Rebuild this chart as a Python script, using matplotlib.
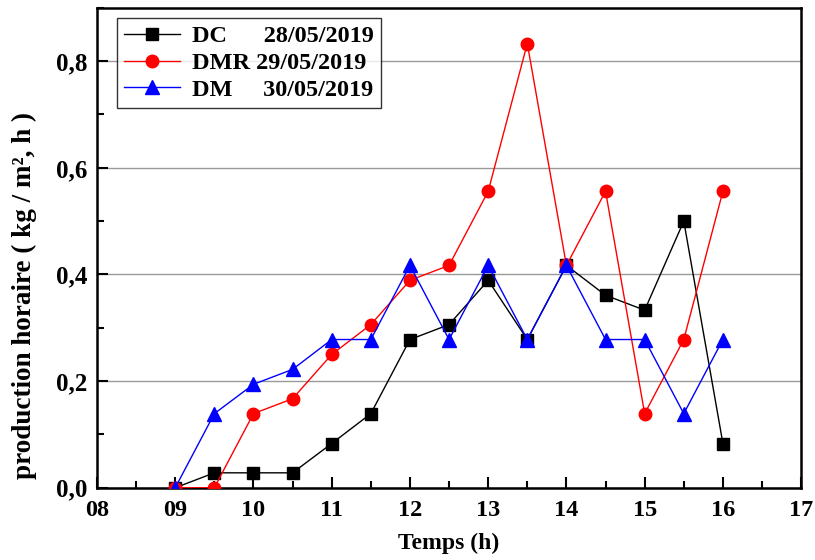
import numpy as np
import matplotlib.pyplot as plt
from matplotlib.ticker import MultipleLocator, FuncFormatter

plt.rcParams['font.family'] = ['Liberation Serif', 'DejaVu Serif']
plt.rcParams['font.weight'] = 'bold'

hours = [9, 9.5, 10, 10.5, 11, 11.5, 12, 12.5, 13, 13.5, 14, 14.5, 15, 15.5, 16]
dc = [0.0, 0.028, 0.028, 0.028, 0.083, 0.139, 0.278, 0.306, 0.389, 0.278, 0.417, 0.361, 0.333, 0.5, 0.083]
dmr = [0.0, 0.0, 0.139, 0.167, 0.25, 0.306, 0.389, 0.417, 0.556, 0.833, 0.417, 0.556, 0.139, 0.278, 0.556]
dm = [0.0, 0.139, 0.194, 0.222, 0.278, 0.278, 0.417, 0.278, 0.417, 0.278, 0.417, 0.278, 0.278, 0.139, 0.278]

labels = ["DC      28/05/2019", "DMR 29/05/2019", "DM     30/05/2019"]

fig = plt.figure(figsize=(8.15, 5.6), dpi=100)
ax = fig.add_axes([0.119, 0.129, 0.864, 0.857])

ax.plot(hours, dc, "-s", color="black", lw=1, ms=8, label=labels[0], zorder=3)
ax.plot(hours, dmr, "-o", color="red", lw=1, ms=9, label=labels[1], zorder=4)
ax.plot(hours, dm, "-^", color="blue", lw=1, ms=10, label=labels[2], zorder=5)

ax.set_xlim(8, 17)
ax.set_ylim(0, 0.9)
ax.xaxis.set_major_locator(MultipleLocator(1))
ax.xaxis.set_minor_locator(MultipleLocator(0.5))
ax.yaxis.set_major_locator(MultipleLocator(0.2))
ax.yaxis.set_minor_locator(MultipleLocator(0.1))
ax.xaxis.set_major_formatter(FuncFormatter(lambda v, p: f"{int(round(v)):02d}"))
ax.yaxis.set_major_formatter(FuncFormatter(lambda v, p: f"{v:.1f}".replace(".", ",")))
ax.tick_params(which="both", direction="in", width=1.5)
ax.tick_params(axis="x", labelsize=17.5, pad=9)
ax.tick_params(axis="y", labelsize=18, pad=7)
ax.tick_params(which="major", length=8)
ax.tick_params(which="minor", length=5)
for sp in ax.spines.values():
    sp.set_linewidth(1.8)
ax.grid(axis="y", which="major", color="#999999", lw=1)
ax.set_axisbelow(True)

ax.set_xlabel("Temps (h)", fontsize=17, fontweight="bold")
ax.xaxis.set_label_coords(0.5, -0.093)
ax.set_ylabel("production horaire ( kg / m², h )", fontsize=19.5, fontweight="bold")
ax.yaxis.set_label_coords(-0.085, 0.40)

leg = ax.legend(loc="upper left", bbox_to_anchor=(0.028, 0.979), borderaxespad=0,
                fontsize=17.5, frameon=True, fancybox=False, edgecolor="black",
                handlelength=2.3, borderpad=0.3, labelspacing=0.2, handletextpad=0.5)
leg.get_frame().set_linewidth(1)

fig.savefig("out.png", dpi=100)
